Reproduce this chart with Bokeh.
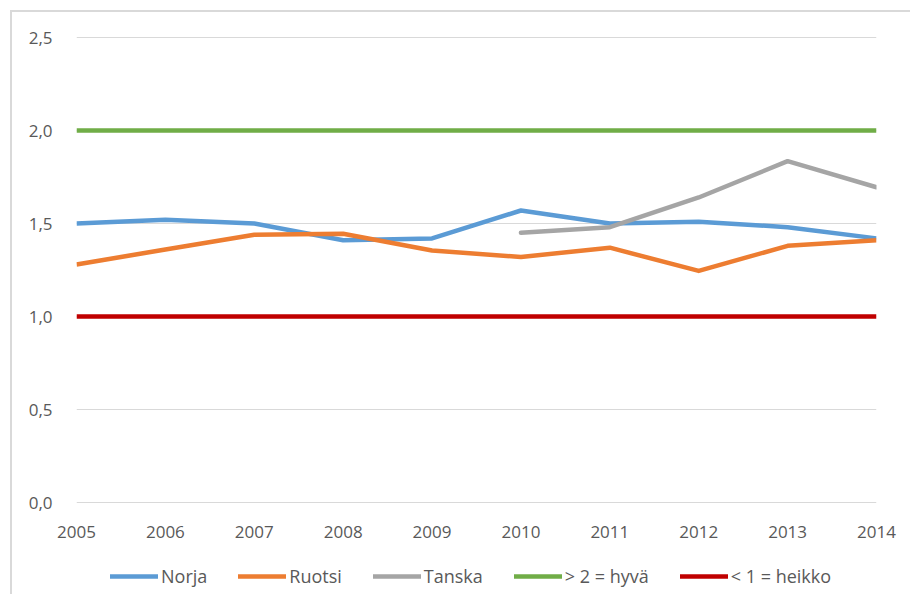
from bokeh.plotting import figure
from bokeh.layouts import column
from bokeh.models import FixedTicker, Legend, LegendItem, InlineStyleSheet
from bokeh.embed import file_html
from bokeh.resources import INLINE

years = [2005, 2006, 2007, 2008, 2009, 2010, 2011, 2012, 2013, 2014]
norja = [1.50, 1.52, 1.50, 1.41, 1.42, 1.57, 1.50, 1.51, 1.48, 1.42]
ruotsi = [1.28, 1.36, 1.44, 1.445, 1.355, 1.32, 1.37, 1.245, 1.38, 1.41]
tanska_years = [2010, 2011, 2012, 2013, 2014]
tanska = [1.45, 1.48, 1.64, 1.835, 1.695]
hyva = [2.0, 2.0, 2.0, 2.0, 2.0, 2.0, 2.0, 2.0, 2.0, 2.0]
heikko = [1.0, 1.0, 1.0, 1.0, 1.0, 1.0, 1.0, 1.0, 1.0, 1.0]
y_ticks = [0.0, 0.5, 1.0, 1.5, 2.0, 2.5]
y_tick_labels = ["0,0", "0,5", "1,0", "1,5", "2,0", "2,5"]
series_names = ["Norja", "Ruotsi", "Tanska", "> 2 = hyvä", "< 1 = heikko"]
series_colors = ["#5B9BD5", "#ED7D31", "#A5A5A5", "#70AD47", "#C00000"]

FONT = "Open Sans"
TXT = "#595959"
LW = 4.5

p = figure(width=900, height=550, output_backend="svg", toolbar_location=None,
           x_range=(2005, 2014), y_range=(-2 / 186, 2.5 + 1 / 186),
           min_border_left=76, min_border_right=24, min_border_top=36, min_border_bottom=46)
p.outline_line_color = None
p.background_fill_color = "white"
p.border_fill_color = "white"

p.xgrid.grid_line_color = None
p.ygrid.grid_line_color = "#D9D9D9"
p.ygrid.grid_line_width = 1
p.ygrid.ticker = FixedTicker(ticks=y_ticks)

p.yaxis.ticker = FixedTicker(ticks=y_ticks)
p.yaxis.major_label_overrides = {t: l for t, l in zip(y_ticks, y_tick_labels)}
p.xaxis.ticker = FixedTicker(ticks=years)
for ax in (p.xaxis, p.yaxis):
    ax.axis_line_color = None
    ax.major_tick_line_color = None
    ax.minor_tick_line_color = None
    ax.major_label_text_font = FONT
    ax.major_label_text_font_size = "17px"
    ax.major_label_text_color = TXT
p.yaxis.major_label_standoff = 18
p.xaxis.major_label_standoff = 15

series_x = [years, years, tanska_years, years, years]
series_y = [norja, ruotsi, tanska, hyva, heikko]

p.line(years, hyva, line_color=series_colors[3], line_width=LW)
p.line(years, heikko, line_color=series_colors[4], line_width=LW)
p.line(years, norja, line_color=series_colors[0], line_width=LW, line_join="round")
p.line(years, ruotsi, line_color=series_colors[1], line_width=LW, line_join="round")
p.line(tanska_years, tanska, line_color=series_colors[2], line_width=LW, line_join="round", line_cap="round")

# legend strip below the chart (its own ranges keep the proxy lines out of view)
q = figure(width=900, height=44, output_backend="svg", toolbar_location=None,
           x_range=(0, 1), y_range=(100, 101), x_axis_location=None, y_axis_location=None,
           min_border_left=0, min_border_right=0, min_border_top=0, min_border_bottom=0)
q.outline_line_color = None
q.xgrid.grid_line_color = None
q.ygrid.grid_line_color = None
items = []
for name, col, xs, ys in zip(series_names, series_colors, series_x, series_y):
    r = q.line(x=xs, y=ys, line_color=col, line_width=LW, line_cap="round")
    items.append(LegendItem(label=name, renderers=[r]))
legend = Legend(items=items, orientation="horizontal", location=(34, 6))
legend.label_text_font = FONT
legend.label_text_font_size = "18px"
legend.label_text_color = TXT
legend.glyph_width = 48
legend.label_standoff = 3
legend.spacing = 31
legend.padding = 0
legend.margin = 0
legend.border_line_color = None
legend.background_fill_alpha = 0
q.add_layout(legend, "center")

frame_css = InlineStyleSheet(css="""
:host { position: relative; }
:host::after {
  content: '';
  position: absolute;
  left: 10px; top: 10px; right: -10px; bottom: 0;
  border-left: 2px solid #D9D9D9;
  border-top: 2px solid #D9D9D9;
  pointer-events: none;
  z-index: 10;
}
""")

layout = column(p, q, spacing=0, stylesheets=[frame_css])
open("out.html", "w").write(file_html(layout, INLINE))
